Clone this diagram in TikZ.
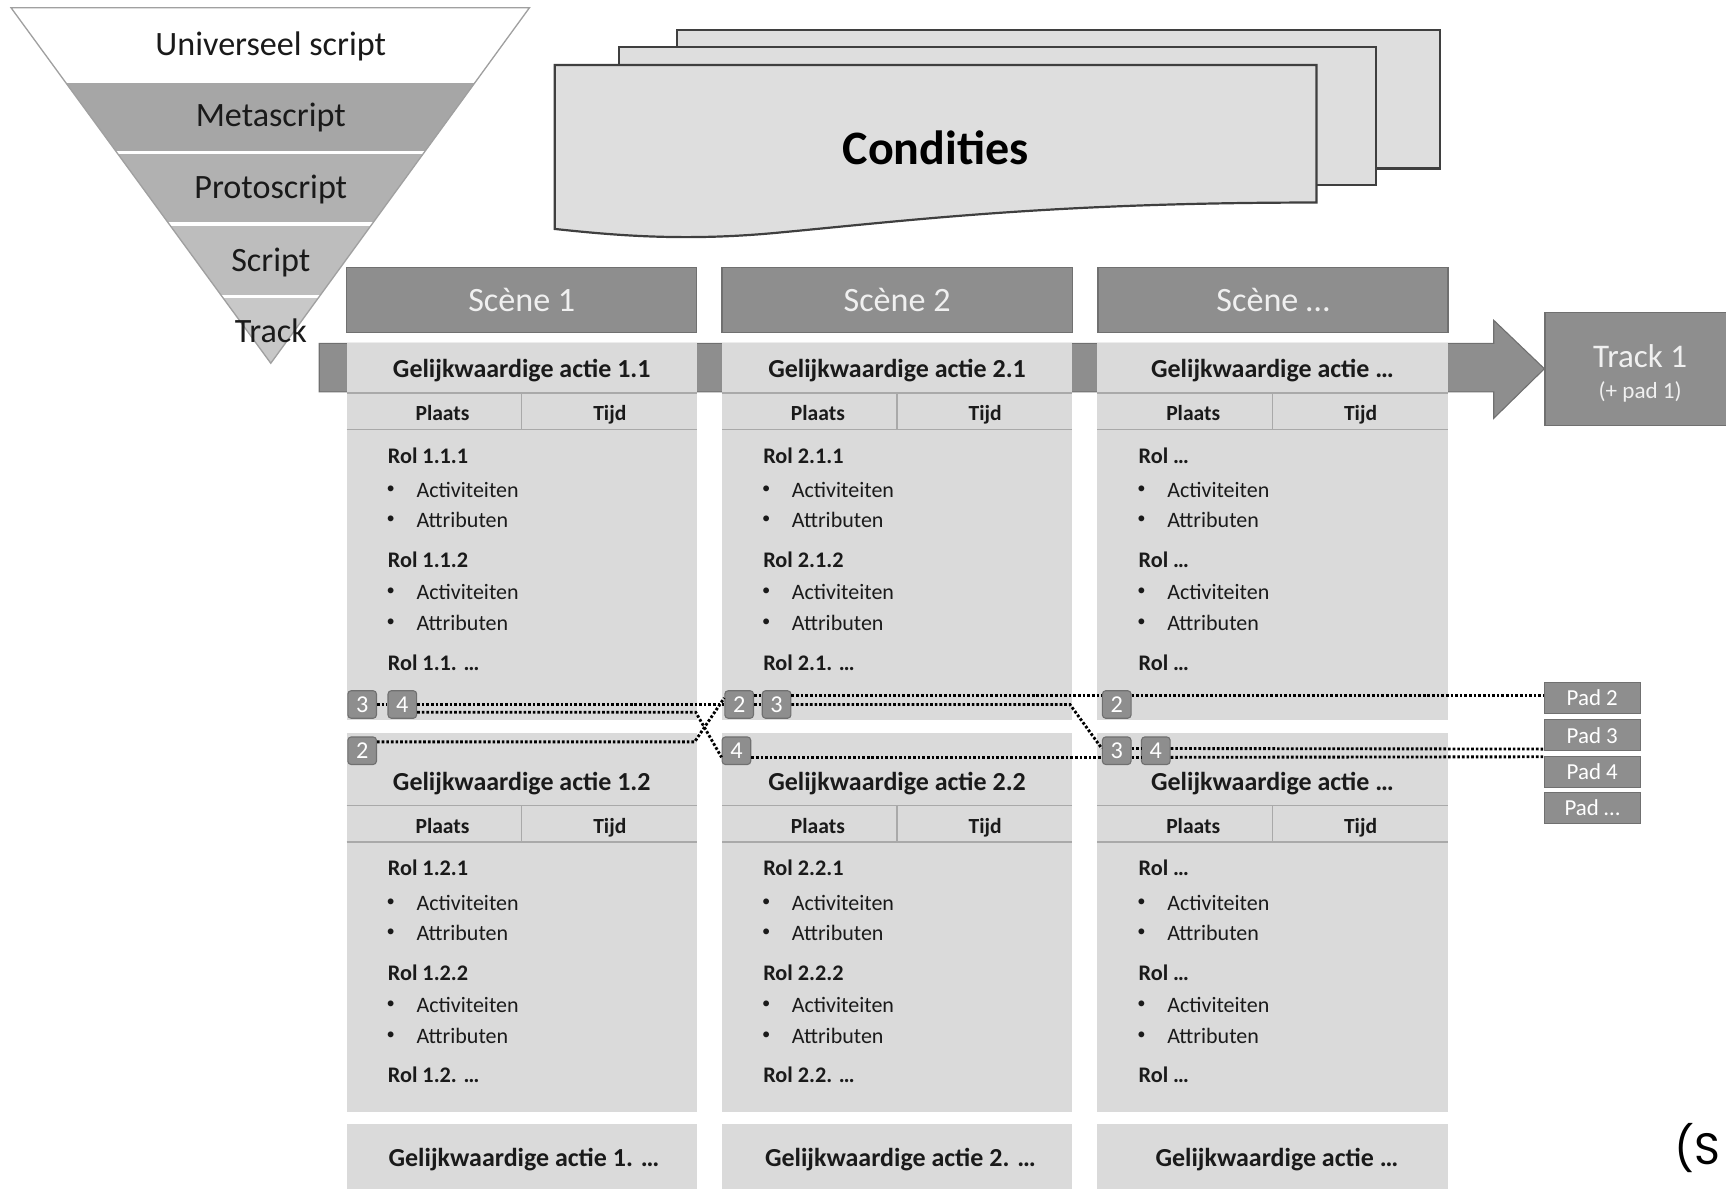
\documentclass[tikz,border=0pt]{standalone}
\usepackage{fontspec}
\setmainfont{Carlito}
\newfontfamily\geofont{Poppins}
\usetikzlibrary{calc}

\definecolor{lijngrijs}{HTML}{A0A0A0}
\definecolor{metagrijs}{HTML}{A6A6A6}
\definecolor{protogrijs}{HTML}{B1B1B1}
\definecolor{scriptgrijs}{HTML}{BDBDBD}
\definecolor{trackgrijs}{HTML}{C8C8C8}
\definecolor{vlakgrijs}{HTML}{DEDEDE}
\definecolor{randdonker}{HTML}{3F3F3F}
\definecolor{kopgrijs}{HTML}{8E8E8E}
\definecolor{koprand}{HTML}{707070}
\definecolor{blokgrijs}{HTML}{DADADA}
\definecolor{rijgrijs}{HTML}{A9A9A9}
\definecolor{tekstgrijs}{HTML}{1A1A1A}

% #1 left edge, #2 vertical shift, #3 name, #4 title, #5 #6 #7 role lines
\newcommand\actieblok[7]{%
  \node[titel] (#3-titel) at (#1+159,335+#2) {#4};
  \draw[rijlijn] (#1,357+#2) -- (#1+318,357+#2);
  \draw[rijlijn] (#1,390+#2) -- (#1+318,390+#2);
  \draw[rijlijn] (#1+159,357+#2) -- (#1+159,390+#2);
  \node[kop] (#3-plaats) at (#1+87,375+#2) {Plaats};
  \node[kop] (#3-tijd) at (#1+239,375+#2) {Tijd};
  \node[rol] (#3-r1) at (#1+37,413+#2) {#5};
  \node[stip] (#3-s1) at (#1+40,445+#2) {•};
  \node[punt] (#3-a1) at (#1+63,445+#2) {Activiteiten};
  \node[stip] (#3-s2) at (#1+40,472+#2) {•};
  \node[punt] (#3-b1) at (#1+63,472+#2) {Attributen};
  \node[rol] (#3-r2) at (#1+37,508+#2) {#6};
  \node[stip] (#3-s3) at (#1+40,538+#2) {•};
  \node[punt] (#3-a2) at (#1+63,538+#2) {Activiteiten};
  \node[stip] (#3-s4) at (#1+40,566+#2) {•};
  \node[punt] (#3-b2) at (#1+63,566+#2) {Attributen};
  \node[rol] (#3-r3) at (#1+37,601+#2) {#7};
}

\begin{document}
\begin{tikzpicture}[x=0.5pt,y=-0.5pt,
  laag/.style={font=\fontsize{15.5}{18}\selectfont, text=tekstgrijs, inner sep=0, anchor=mid, yshift=-2.8pt},
  scene/.style={fill=kopgrijs, draw=koprand, line width=0.6pt, minimum width=159pt,
    minimum height=29.5pt, inner sep=0, text=white!94!black, font=\fontsize{15.5}{18}\selectfont},
  titel/.style={font=\bfseries\fontsize{11.8}{14}\selectfont, text=tekstgrijs, inner sep=0, anchor=mid, yshift=-1.6pt},
  kop/.style={font=\bfseries\fontsize{9.8}{12}\selectfont, text=tekstgrijs, inner sep=0, anchor=mid, yshift=-1.1pt},
  rol/.style={font=\bfseries\fontsize{10.1}{12}\selectfont, text=tekstgrijs, inner sep=0, anchor=mid west, yshift=-1.5pt},
  punt/.style={font=\fontsize{10}{12}\selectfont, text=tekstgrijs, inner sep=0, anchor=mid west, yshift=-1.1pt},
  stip/.style={font=\fontsize{7.5}{9}\selectfont, text=tekstgrijs, inner sep=0, anchor=center},
  rijlijn/.style={draw=rijgrijs, line width=0.6pt},
  blok/.style={fill=blokgrijs},
  blad/.style={fill=vlakgrijs, draw=randdonker, line width=1pt},
  padnr/.style={rounded corners=1.5pt, fill=kopgrijs, draw=koprand, line width=0.5pt,
    minimum width=13pt, minimum height=12.5pt, inner sep=0, text=white,
    font=\fontsize{11}{12}\selectfont},
  padlabel/.style={fill=kopgrijs, draw=koprand, line width=0.5pt, minimum width=43.5pt,
    minimum height=14pt, inner sep=0, text=white, font=\fontsize{10.4}{12}\selectfont},
  padlijn/.style={draw=black, line width=1.3pt, dash pattern=on 1.2pt off 0.9pt}
]
\useasboundingbox (0,0) rectangle (1568,1080);

% ---- script hierarchy (inverted triangle) ----
\fill[white] (10,7) -- (481,7) -- (246,330) -- cycle;
\begin{scope}
  \clip (10,7) -- (481,7) -- (246,330) -- cycle;
  \fill[metagrijs] (0,73) rectangle (500,138.5);
  \fill[protogrijs] (0,138.5) rectangle (500,203.5);
  \fill[scriptgrijs] (0,203.5) rectangle (500,269.5);
  \fill[trackgrijs] (0,269.5) rectangle (500,335);
  \foreach \yy in {74,138.5,203.5,269.5}
    \draw[white, line width=1.4pt] (0,\yy) -- (500,\yy);
\end{scope}
\draw[lijngrijs, line width=0.6pt] (10,7) -- (481,7) -- (246,330) -- cycle;
\node[laag] (universeel) at (246,40) {Universeel script};
\node[laag] (meta) at (246,105) {Metascript};
\node[laag] (proto) at (246,170) {Protoscript};
\node[laag] (script) at (246,236) {Script};
\node[laag] (track) at (246,301) {Track};

% ---- stacked condition sheets ----
\draw[blad] (615,27) rectangle (1308,153);
\draw[blad] (562,43) rectangle (1250,168);
\draw[blad] (504,59) -- (1196,59) -- (1196,184)
  .. controls (950,184) and (820,201) .. (700,212)
  .. controls (620,219) and (560,214) .. (504,208) -- cycle;
\node[font=\bfseries\fontsize{21.8}{26}\selectfont, inner sep=0, anchor=mid, yshift=-4.8pt] (condities) at (850,135) {Condities};

% ---- track bar with arrow ----
\draw[fill=kopgrijs, draw=koprand, line width=0.5pt]
  (290,312) -- (1357,312) -- (1357,291) -- (1403,335) -- (1357,380) -- (1357,356) -- (290,356) -- cycle;
\node[fill=kopgrijs, draw=koprand, line width=0.6pt, minimum width=86pt, minimum height=51.5pt,
  inner sep=0, anchor=north west] (track1) at (1403,283) {};
\node[font=\fontsize{15}{18}\selectfont, text=white!94!black, inner sep=0, anchor=mid, yshift=-3pt] (track1t) at (1490,323) {Track 1};
\node[font=\fontsize{10.5}{12}\selectfont, text=white!94!black, inner sep=0, anchor=mid, yshift=-1.5pt] (track1p) at (1490,354) {(+ pad 1)};

% ---- scene headers ----
\node[scene] (scene1) at (474,272.5) {Scène 1};
\node[scene] (scene2) at (815,272.5) {Scène 2};
\node[scene] (scene3) at (1156.5,272.5) {Scène …};

% ---- action blocks ----
\foreach \L in {315,656,997} {
  \fill[blok] (\L,312) rectangle (\L+318,654);
  \fill[blok] (\L,666) rectangle (\L+318,1010);
  \fill[blok] (\L,1021) rectangle (\L+318,1090);
}
\actieblok{315}{0}{a11}{Gelijkwaardige actie 1.1}{Rol 1.1.1}{Rol 1.1.2}{Rol 1.1. …}
\actieblok{656}{0}{a21}{Gelijkwaardige actie 2.1}{Rol 2.1.1}{Rol 2.1.2}{Rol 2.1. …}
\actieblok{997}{0}{a31}{Gelijkwaardige actie …}{Rol …}{Rol …}{Rol …}
\actieblok{315}{375}{a12}{Gelijkwaardige actie 1.2}{Rol 1.2.1}{Rol 1.2.2}{Rol 1.2. …}
\actieblok{656}{375}{a22}{Gelijkwaardige actie 2.2}{Rol 2.2.1}{Rol 2.2.2}{Rol 2.2. …}
\actieblok{997}{375}{a32}{Gelijkwaardige actie …}{Rol …}{Rol …}{Rol …}
\node[titel] (a13-titel) at (476,1052) {Gelijkwaardige actie 1. …};
\node[titel] (a23-titel) at (818,1052) {Gelijkwaardige actie 2. …};
\node[titel] (a33-titel) at (1160,1052) {Gelijkwaardige actie …};

% ---- path markers ----
\node[padnr] (p1u3) at (329,640) {3};
\node[padnr] (p1u4) at (365.5,640) {4};
\node[padnr] (p1l2) at (329,682) {2};
\node[padnr] (p2u2) at (671.5,640) {2};
\node[padnr] (p2u3) at (705.5,640) {3};
\node[padnr] (p2l4) at (669,682) {4};
\node[padnr] (p3u2) at (1014.5,640) {2};
\node[padnr] (p3l3) at (1014.5,682) {3};
\node[padnr] (p3l4) at (1050,682) {4};

\node[padlabel] (pad2) at (1446.5,634) {Pad 2};
\node[padlabel] (pad3) at (1446.5,668) {Pad 3};
\node[padlabel] (pad4) at (1446.5,701) {Pad 4};
\node[padlabel] (padx) at (1446.5,734) {Pad …};

% path 2
\draw[padlijn] ($(p1l2.east)+(0,-8)$) -- (631,674) -- ($(p2u2.west)+(0,-6)$);
\draw[padlijn] ($(p2u2.east)+(0,-8)$) -- ($(p2u3.west)+(0,-8)$);
\draw[padlijn] ($(p2u3.east)+(0,-8)$) -- ($(p3u2.west)+(0,-8)$);
\draw[padlijn] ($(p3u2.east)+(0,-8)$) -- ($(pad2.west)+(0,-2)$);
% path 3
\draw[padlijn] (p1u3.east) -- (p1u4.west);
\draw[padlijn] (p1u4.east) -- (p2u2.west);
\draw[padlijn] (p2u2.east) -- (p2u3.west);
\draw[padlijn] (p2u3.east) -- (972,640) -- ($(p3l3.west)+(0,-2)$);
\draw[padlijn] ($(p3l3.east)+(0,-2)$) -- ($(p3l4.west)+(0,-2)$);
\draw[padlijn] ($(p3l4.east)+(0,-2)$) -- ($(pad3.south west)+(0,-2)$);
% path 4
\draw[padlijn] ($(p1u4.east)+(0,7)$) -- (632,647) -- ($(p2l4.west)+(0,6)$);
\draw[padlijn] ($(p2l4.east)+(0,6)$) -- ($(p3l3.west)+(0,6)$);
\draw[padlijn] ($(p3l3.east)+(0,6)$) -- ($(p3l4.west)+(0,6)$);
\draw[padlijn] ($(p3l4.east)+(0,6)$) -- ($(pad4.north west)+(0,1)$);

% ---- source reference, running past the edge ----
\node[font=\geofont\fontsize{20}{24}\selectfont, inner sep=0, anchor=mid west] (bron) at (1521,1053) {(S};
\end{tikzpicture}
\end{document}
